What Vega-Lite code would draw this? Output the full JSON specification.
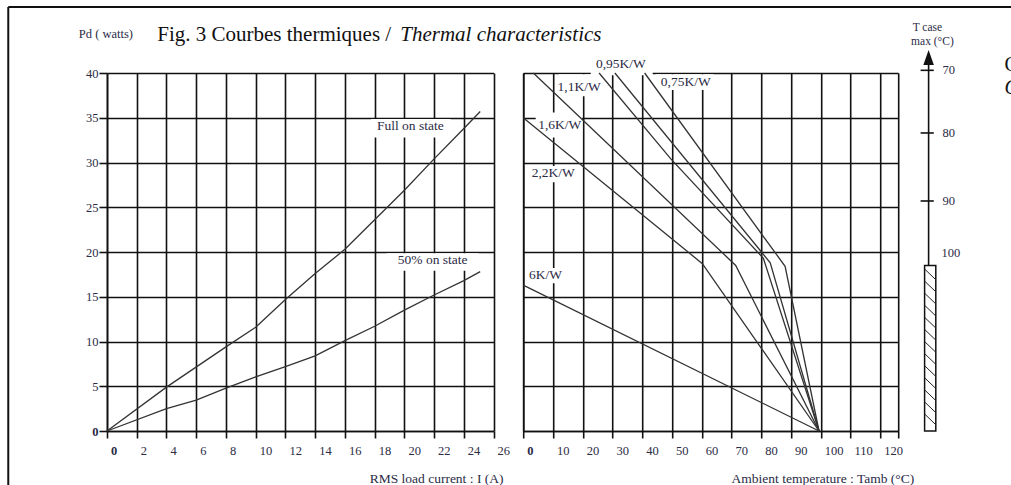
{
  "$schema": "https://vega.github.io/schema/vega-lite/v6.json",
  "background": "white",
  "padding": {"left": 7, "top": 6, "right": 0, "bottom": 0},
  "config": {
    "view": {"stroke": null},
    "font": "Liberation Serif",
    "axis": {
      "domainColor": "#111", "domainWidth": 1.6,
      "tickColor": "#111", "tickWidth": 1.6,
      "gridColor": "#111", "gridWidth": 1.6, "gridOpacity": 1,
      "labelColor": "#2b2b45", "labelFont": "Liberation Serif",
      "titleColor": "#2b2b45", "titleFont": "Liberation Serif", "titleFontWeight": "normal",
      "labelFlush": false, "labelOverlap": false
    }
  },
  "bounds": "flush",
  "spacing": 29.2,
  "hconcat": [
    {
      "width": 386.6,
      "height": 358,
      "encoding": {
        "x": {"field": "x", "type": "quantitative", "scale": {"domain": [0, 26], "nice": false, "zero": false},
          "axis": {"values": [0,2,4,6,8,10,12,14,16,18,20,22,24,26], "grid": true, "tickSize": 7, "labelPadding": 6, "labelAlign": "left", "labelOffset": 3.5, "labelFontSize": 12.5,
            "labelFontWeight": {"condition": {"test": "datum.value == 0", "value": "bold"}, "value": "normal"},
            "title": "RMS load current : I (A)", "titleFontSize": 13.5, "titleX": 396, "titleY": 47, "titleAlign": "right", "titleBaseline": "middle"}},
        "y": {"field": "y", "type": "quantitative", "scale": {"domain": [0, 40], "nice": false, "zero": false},
          "axis": {"values": [0,5,10,15,20,25,30,35,40], "grid": true, "tickSize": 8, "labelPadding": 1, "labelFontSize": 12.5,
            "labelFontWeight": {"condition": {"test": "datum.value == 0", "value": "bold"}, "value": "normal"},
            "title": "Pd ( watts)", "titleFontSize": 12.5, "titleAngle": 0, "titleX": -28.7, "titleY": -40, "titleAlign": "left", "titleBaseline": "middle"}}
      },
      "layer": [
        {
          "data": {"values": [
            {"x": -6.64, "x2": -6.64, "y": 47.37, "y2": -8},
            {"x": -6.64, "x2": 62, "y": 47.37, "y2": 47.37}
          ]},
          "mark": {"type": "rule", "color": "#111", "strokeWidth": 2},
          "encoding": {"x2": {"field": "x2"}, "y2": {"field": "y2"}}
        },
        {
          "data": {"values": [
            {"x": 17.75, "x2": 23.1, "y": 32.8, "y2": 34.85},
            {"x": 18.8, "x2": 25.0, "y": 17.9, "y2": 19.85}
          ]},
          "mark": {"type": "rect", "fill": "white"},
          "encoding": {"x2": {"field": "x2"}, "y2": {"field": "y2"}}
        },
        {
          "data": {"values": [
            {"series": "Full on state", "x": 0, "y": 0},
            {"series": "Full on state", "x": 4, "y": 4.9},
            {"series": "Full on state", "x": 8, "y": 9.4},
            {"series": "Full on state", "x": 10, "y": 11.6},
            {"series": "Full on state", "x": 12, "y": 14.7},
            {"series": "Full on state", "x": 14, "y": 17.6},
            {"series": "Full on state", "x": 16, "y": 20.3},
            {"series": "Full on state", "x": 18, "y": 23.6},
            {"series": "Full on state", "x": 20, "y": 26.9},
            {"series": "Full on state", "x": 22, "y": 30.4},
            {"series": "Full on state", "x": 24, "y": 33.8},
            {"series": "Full on state", "x": 25.1, "y": 35.7},
            {"series": "50% on state", "x": 0, "y": 0},
            {"series": "50% on state", "x": 4, "y": 2.5},
            {"series": "50% on state", "x": 6, "y": 3.45},
            {"series": "50% on state", "x": 8, "y": 4.8},
            {"series": "50% on state", "x": 10, "y": 6.05},
            {"series": "50% on state", "x": 12, "y": 7.2},
            {"series": "50% on state", "x": 14, "y": 8.4},
            {"series": "50% on state", "x": 16, "y": 10.1},
            {"series": "50% on state", "x": 18, "y": 11.7},
            {"series": "50% on state", "x": 20, "y": 13.5},
            {"series": "50% on state", "x": 22, "y": 15.2},
            {"series": "50% on state", "x": 24, "y": 16.8},
            {"series": "50% on state", "x": 25.1, "y": 17.8}
          ]},
          "mark": {"type": "line", "color": "#333", "strokeWidth": 1.3},
          "encoding": {"detail": {"field": "series"}}
        },
        {
          "data": {"values": [
            {"x": 20.4, "y": 34.1, "label": "Full on state"},
            {"x": 21.9, "y": 19.1, "label": "50% on state"}
          ]},
          "mark": {"type": "text", "fontSize": 13.5, "align": "center", "baseline": "middle", "color": "#2b2b45"},
          "encoding": {"text": {"field": "label"}}
        },
        {
          "data": {"values": [{"x": 3.38, "y": 43.63, "label": "Fig. 3 Courbes thermiques  /"}]},
          "mark": {"type": "text", "fontSize": 21, "align": "left", "baseline": "alphabetic", "color": "#111"},
          "encoding": {"text": {"field": "label"}}
        },
        {
          "data": {"values": [{"x": 19.72, "y": 43.63, "label": "Thermal characteristics"}]},
          "mark": {"type": "text", "fontSize": 21, "fontStyle": "italic", "align": "left", "baseline": "alphabetic", "color": "#111"},
          "encoding": {"text": {"field": "label"}}
        }
      ]
    },
    {
      "width": 375,
      "height": 358,
      "encoding": {
        "x": {"field": "x", "type": "quantitative", "scale": {"domain": [0, 126], "nice": false, "zero": false},
          "axis": {"values": [0,10,20,30,40,50,60,70,80,90,100,110,120,126], "grid": true, "tickSize": 7, "labelPadding": 6, "labelAlign": "left", "labelOffset": 3.5, "labelFontSize": 12.5,
            "labelExpr": "datum.value == 126 ? '' : datum.label",
            "labelFontWeight": {"condition": {"test": "datum.value == 0", "value": "bold"}, "value": "normal"},
            "title": "Ambient temperature : Tamb (°C)", "titleFontSize": 13.5, "titleX": 390.5, "titleY": 47, "titleAlign": "right", "titleBaseline": "middle"}},
        "y": {"field": "y", "type": "quantitative", "scale": {"domain": [0, 40], "nice": false, "zero": false},
          "axis": {"values": [0,5,10,15,20,25,30,35,40], "grid": true, "ticks": false, "labels": false, "title": null}}
      },
      "layer": [
        {
          "data": {"values": [
            {"x": 22.7, "x2": 43.5, "y": 39.75, "y2": 42.0},
            {"x": 12.0, "x2": 25.2, "y": 37.4, "y2": 39.85},
            {"x": 44.5, "x2": 64.0, "y": 38.1, "y2": 39.85},
            {"x": 4.2, "x2": 19.8, "y": 32.8, "y2": 35.6},
            {"x": 1.5, "x2": 18.7, "y": 27.8, "y2": 29.6},
            {"x": 1.2, "x2": 14.3, "y": 16.5, "y2": 18.2}
          ]},
          "mark": {"type": "rect", "fill": "white"},
          "encoding": {"x2": {"field": "x2"}, "y2": {"field": "y2"}}
        },
        {
          "data": {"values": [
            {"series": "0,75K/W", "x": 40.8, "y": 40},
            {"series": "0,75K/W", "x": 88.0, "y": 18.4},
            {"series": "0,75K/W", "x": 99.4, "y": 0},
            {"series": "0,95K/W", "x": 30.8, "y": 40},
            {"series": "0,95K/W", "x": 83.0, "y": 18.8},
            {"series": "0,95K/W", "x": 99.4, "y": 0},
            {"series": "1,1K/W", "x": 25.5, "y": 40},
            {"series": "1,1K/W", "x": 49.6, "y": 30.4},
            {"series": "1,1K/W", "x": 80.7, "y": 19.3},
            {"series": "1,1K/W", "x": 99.4, "y": 0},
            {"series": "1,6K/W", "x": 3.4, "y": 40},
            {"series": "1,6K/W", "x": 71.4, "y": 18.5},
            {"series": "1,6K/W", "x": 99.4, "y": 0},
            {"series": "2,2K/W", "x": 0, "y": 35},
            {"series": "2,2K/W", "x": 60.2, "y": 18.7},
            {"series": "2,2K/W", "x": 99.4, "y": 0},
            {"series": "6K/W", "x": 0, "y": 16.3},
            {"series": "6K/W", "x": 99.4, "y": 0}
          ]},
          "mark": {"type": "line", "color": "#333", "strokeWidth": 1.3},
          "encoding": {"detail": {"field": "series"}}
        },
        {
          "data": {"values": [
            {"x": 32.8, "y": 41.0, "label": "0,95K/W"},
            {"x": 18.8, "y": 38.4, "label": "1,1K/W"},
            {"x": 54.6, "y": 39.0, "label": "0,75K/W"},
            {"x": 12.3, "y": 34.2, "label": "1,6K/W"},
            {"x": 10.1, "y": 28.8, "label": "2,2K/W"},
            {"x": 7.5, "y": 17.4, "label": "6K/W"}
          ]},
          "mark": {"type": "text", "fontSize": 13.5, "align": "center", "baseline": "middle", "color": "#2b2b45"},
          "encoding": {"text": {"field": "label"}}
        }
      ]
    },
    {
      "width": 40,
      "height": 358,
      "encoding": {
        "x": {"field": "x", "type": "quantitative", "scale": {"domain": [0, 1], "nice": false, "zero": false}, "axis": null},
        "y": {"field": "y", "type": "quantitative", "scale": {"domain": [0, 40], "nice": false, "zero": false}, "axis": null}
      },
      "layer": [
        {
          "data": {"values": [
            {"x": 0.03, "x2": 0.03, "y": 40.9, "y2": 18.5},
            {"x": -0.17, "x2": 0.16, "y": 40.3, "y2": 40.3},
            {"x": -0.17, "x2": 0.16, "y": 33.3, "y2": 33.3},
            {"x": -0.17, "x2": 0.16, "y": 25.7, "y2": 25.7}
          ]},
          "mark": {"type": "rule", "color": "#111", "strokeWidth": 1.6},
          "encoding": {"x2": {"field": "x2"}, "y2": {"field": "y2"}}
        },
        {
          "data": {"values": [{"x": 0.03, "y": 41.73}]},
          "mark": {"type": "point", "shape": "M0,-1L0.7,1L-0.7,1Z", "size": 225, "filled": true, "color": "#111", "opacity": 1}
        },
        {
          "data": {"values": [{"x": -0.07, "x2": 0.21, "y": 0, "y2": 18.5}]},
          "mark": {"type": "rect", "fill": "white", "stroke": "#111", "strokeWidth": 1.5},
          "encoding": {"x2": {"field": "x2"}, "y2": {"field": "y2"}}
        },
        {
          "data": {"values": [
            {"x": -0.07, "x2": 0.21, "y": 18.1, "y2": 16.9},
            {"x": -0.07, "x2": 0.21, "y": 16.75, "y2": 15.55},
            {"x": -0.07, "x2": 0.21, "y": 15.4, "y2": 14.2},
            {"x": -0.07, "x2": 0.21, "y": 14.05, "y2": 12.85},
            {"x": -0.07, "x2": 0.21, "y": 12.7, "y2": 11.5},
            {"x": -0.07, "x2": 0.21, "y": 11.35, "y2": 10.15},
            {"x": -0.07, "x2": 0.21, "y": 10.0, "y2": 8.8},
            {"x": -0.07, "x2": 0.21, "y": 8.65, "y2": 7.45},
            {"x": -0.07, "x2": 0.21, "y": 7.3, "y2": 6.1},
            {"x": -0.07, "x2": 0.21, "y": 5.95, "y2": 4.75},
            {"x": -0.07, "x2": 0.21, "y": 4.6, "y2": 3.4},
            {"x": -0.07, "x2": 0.21, "y": 3.25, "y2": 2.05},
            {"x": -0.07, "x2": 0.21, "y": 1.9, "y2": 0.7}
          ]},
          "mark": {"type": "rule", "color": "#222", "strokeWidth": 1},
          "encoding": {"x2": {"field": "x2"}, "y2": {"field": "y2"}}
        },
        {
          "data": {"values": [
            {"x": 0.38, "y": 40.3, "label": "70"},
            {"x": 0.38, "y": 33.3, "label": "80"},
            {"x": 0.38, "y": 25.7, "label": "90"},
            {"x": 0.35, "y": 19.9, "label": "100"}
          ]},
          "mark": {"type": "text", "fontSize": 12.5, "align": "left", "baseline": "middle", "color": "#2b2b45"},
          "encoding": {"text": {"field": "label"}}
        },
        {
          "data": {"values": [
            {"x": 0.0, "y": 45.0, "label": "T case"},
            {"x": 0.125, "y": 43.5, "label": "max (°C)"}
          ]},
          "mark": {"type": "text", "fontSize": 11.5, "align": "center", "baseline": "middle", "color": "#2b2b45"},
          "encoding": {"text": {"field": "label"}}
        },
        {
          "data": {"values": [{"x": 1.93, "y": 40.9, "label": "C"}]},
          "mark": {"type": "text", "fontSize": 20, "align": "left", "baseline": "middle", "color": "#111"},
          "encoding": {"text": {"field": "label"}}
        },
        {
          "data": {"values": [{"x": 1.93, "y": 38.3, "label": "C"}]},
          "mark": {"type": "text", "fontSize": 20, "fontStyle": "italic", "align": "left", "baseline": "middle", "color": "#111"},
          "encoding": {"text": {"field": "label"}}
        }
      ]
    }
  ]
}
